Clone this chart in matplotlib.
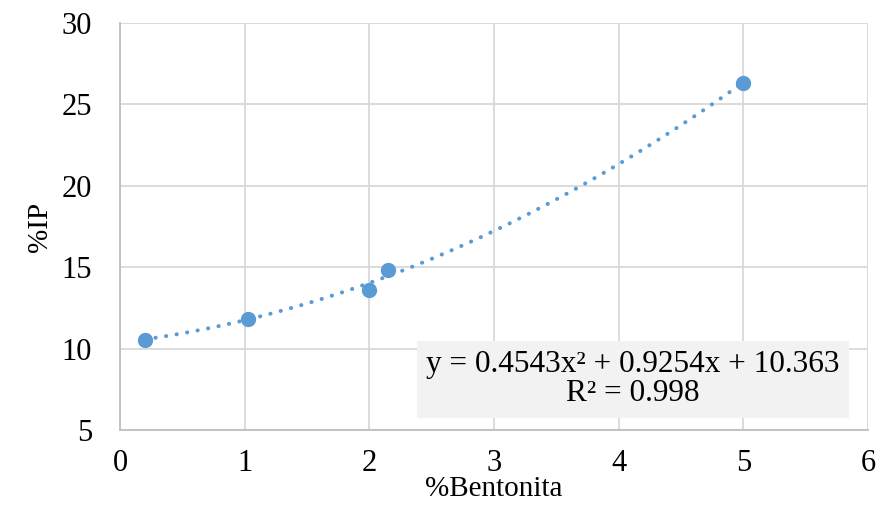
import numpy as np
import matplotlib
matplotlib.use("Agg")
import matplotlib.pyplot as plt

plt.rcParams['font.family'] = ['Liberation Serif', 'DejaVu Serif']

bentonita = [0.2, 1.03, 2.0, 2.15, 5.0]
ip = [10.55, 11.82, 13.6, 14.83, 26.3]
coef = [0.4543, 0.9254, 10.363]
xticks = [0, 1, 2, 3, 4, 5, 6]
yticks = [5, 10, 15, 20, 25, 30]

color = '#5B9BD5'
fig = plt.figure(figsize=(8.81, 5.08), dpi=100)
ax = fig.add_axes([120/881, 78/508, 748/881, 407/508])

xs = np.linspace(min(bentonita), max(bentonita), 300)
ys = np.polyval(coef, xs)
ax.plot(xs, ys, color=color, lw=2.9, dashes=(0.05, 2.6), dash_capstyle='round', zorder=3)
ax.plot(bentonita, ip, 'o', color=color, ms=10, zorder=4, mec=color)

ax.set_xlim(0, 6)
ax.set_ylim(5, 30)
ax.set_xticks(xticks)
ax.set_yticks(yticks)
ax.grid(True, color='#D9D9D9', lw=1.3, zorder=0)
ax.set_axisbelow(True)
for s in ['top', 'right']:
    ax.spines[s].set_visible(False)
for s in ['left', 'bottom']:
    ax.spines[s].set_color('#BFBFBF')
    ax.spines[s].set_linewidth(1.3)
ax.tick_params(length=0, labelsize=22, pad=14, colors='black')
ax.tick_params(axis='y', pad=20)
ax.set_xlabel('%Bentonita', fontsize=21, labelpad=-2)
ax.set_ylabel('%IP', fontsize=21, labelpad=6)

ax.text(0.686, 0.125, 'y = 0.4543x² + 0.9254x + 10.363\nR² = 0.998',
        transform=ax.transAxes, ha='center', va='center', fontsize=22.5,
        linespacing=1.0,
        bbox=dict(boxstyle='square,pad=0.3', fc='#F2F2F2', ec='none'), zorder=5)

fig.savefig('out.png', dpi=100)
